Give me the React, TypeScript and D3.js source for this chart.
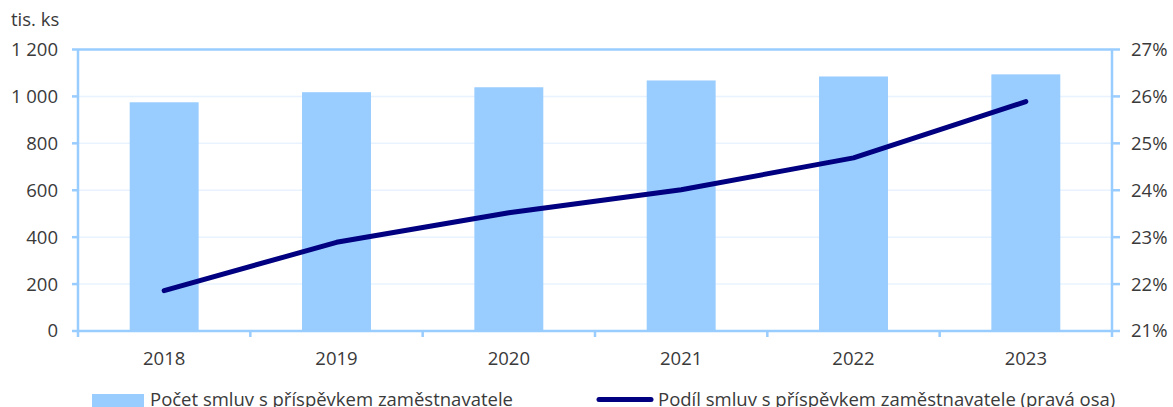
import React, { useEffect, useRef } from 'react';
import * as d3 from 'd3';

const years = ['2018', '2019', '2020', '2021', '2022', '2023'];
// tis. ks
const contracts = [975, 1018, 1039, 1068, 1085, 1094];
// % (right axis)
const share = [21.86, 22.89, 23.52, 24.01, 24.69, 25.89];
const leftTicks = [0, 200, 400, 600, 800, 1000, 1200];
const rightTicks = [21, 22, 23, 24, 25, 26, 27];

const barLabel = 'Počet smluv s příspěvkem zaměstnavatele';
const lineLabel = 'Podíl smluv s příspěvkem zaměstnavatele (pravá osa)';

const W = 1173;
const H = 407;
const FONT = "'Open Sans', sans-serif";
const TEXT = '#3a3a3a';
const AXIS = '#99CCFF';

export default function App() {
    const svgRef = useRef<SVGSVGElement>(null);

    useEffect(() => {
        if (!svgRef.current) return;
        const svg = d3.select(svgRef.current);
        svg.selectAll('*').remove();

        const left = 78, right = 1112, top = 49.5, bottom = 331;

        const x = d3.scaleBand<string>().domain(years).range([left, right]).padding(0);
        const yL = d3.scaleLinear().domain([0, 1200]).range([bottom, top]);
        const yR = d3.scaleLinear().domain([21, 27]).range([bottom, top]);
        const bw = x.bandwidth();

        // light gridlines
        svg.append('g')
            .selectAll('line')
            .data(leftTicks.slice(1, -1))
            .enter().append('line')
            .attr('x1', left).attr('x2', right)
            .attr('y1', d => yL(d)).attr('y2', d => yL(d))
            .attr('stroke', '#E8F3FF')
            .attr('stroke-width', 1.5);

        // bars
        svg.append('g')
            .selectAll('rect')
            .data(contracts)
            .enter().append('rect')
            .attr('x', (_, i) => x(years[i])! + bw * 0.3)
            .attr('width', bw * 0.4)
            .attr('y', d => yL(d))
            .attr('height', d => bottom - yL(d))
            .attr('fill', '#99CCFF');

        // plot frame (axes + top border)
        const frame = svg.append('g').attr('stroke', AXIS).attr('stroke-width', 2.5).attr('fill', 'none');
        frame.append('line').attr('x1', left).attr('x2', right).attr('y1', top).attr('y2', top);
        frame.append('line').attr('x1', left).attr('x2', right).attr('y1', bottom).attr('y2', bottom);
        frame.append('line').attr('x1', left).attr('x2', left).attr('y1', top).attr('y2', bottom + 6);
        frame.append('line').attr('x1', right).attr('x2', right).attr('y1', top).attr('y2', bottom + 6);

        // left ticks
        frame.selectAll('.lt')
            .data(leftTicks)
            .enter().append('line')
            .attr('x1', left - 6).attr('x2', left)
            .attr('y1', d => yL(d)).attr('y2', d => yL(d));
        // right ticks
        frame.selectAll('.rt')
            .data(rightTicks)
            .enter().append('line')
            .attr('x1', right).attr('x2', right + 8)
            .attr('y1', d => yR(d)).attr('y2', d => yR(d));
        // bottom category ticks
        frame.selectAll('.bt')
            .data(years.slice(1))
            .enter().append('line')
            .attr('x1', d => x(d)!).attr('x2', d => x(d)!)
            .attr('y1', bottom).attr('y2', bottom + 6);

        // share line
        const line = d3.line<number>()
            .x((_, i) => x(years[i])! + bw / 2)
            .y(d => yR(d));
        svg.append('path')
            .datum(share)
            .attr('d', line)
            .attr('fill', 'none')
            .attr('stroke', '#000080')
            .attr('stroke-width', 5)
            .attr('stroke-linecap', 'round')
            .attr('stroke-linejoin', 'round');

        const txt = svg.append('g')
            .style('font-family', FONT)
            .style('font-size', '18.5px')
            .attr('fill', TEXT);

        // left labels
        txt.selectAll('.ll')
            .data(leftTicks)
            .enter().append('text')
            .attr('x', 58)
            .attr('y', d => yL(d))
            .attr('dy', '0.35em')
            .attr('text-anchor', 'end')
            .text(d => d3.format(',')(d).replace(/,/g, '\u00a0'));

        // right labels
        txt.selectAll('.rl')
            .data(rightTicks)
            .enter().append('text')
            .attr('x', 1131)
            .attr('y', d => yR(d))
            .attr('dy', '0.35em')
            .text(d => `${d}%`);

        // year labels
        txt.selectAll('.yl')
            .data(years)
            .enter().append('text')
            .attr('x', d => x(d)! + bw / 2)
            .attr('y', 365)
            .attr('text-anchor', 'middle')
            .text(d => d);

        txt.append('text').attr('x', 11).attr('y', 26).text('tis. ks');

        // legend
        svg.append('rect')
            .attr('x', 92).attr('y', 394)
            .attr('width', 52).attr('height', 13)
            .attr('fill', '#99CCFF');
        txt.append('text').attr('x', 150).attr('y', 406).text(barLabel);
        svg.append('line')
            .attr('x1', 599).attr('x2', 651)
            .attr('y1', 399.5).attr('y2', 399.5)
            .attr('stroke', '#000080')
            .attr('stroke-width', 5)
            .attr('stroke-linecap', 'round');
        txt.append('text').attr('x', 658).attr('y', 406).text(lineLabel);
    }, []);

    return (
        <svg
            ref={svgRef}
            width={W}
            height={H}
            style={{ position: 'absolute', left: 0, top: 0, background: '#fff' }}
        />
    );
}
